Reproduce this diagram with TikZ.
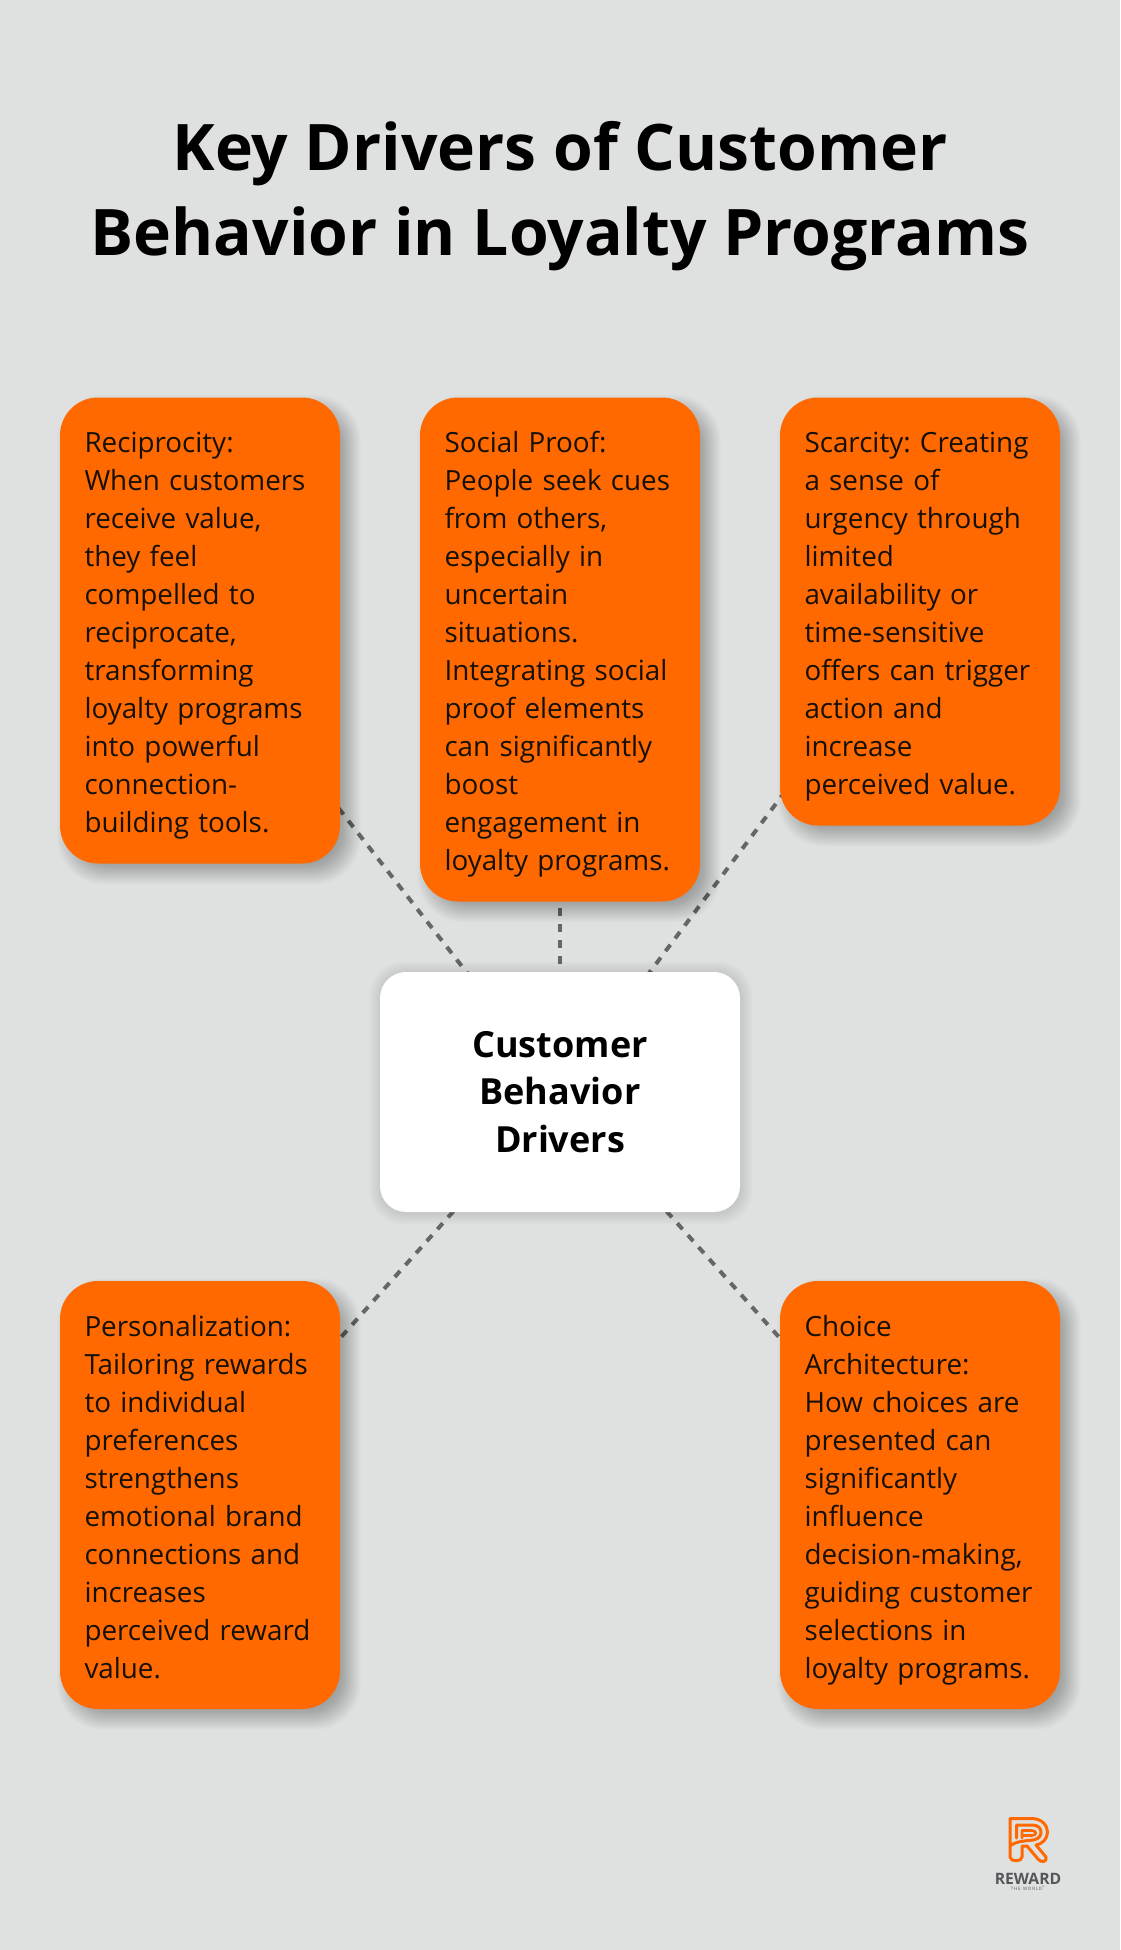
\documentclass[tikz,border=0pt]{standalone}
\usepackage{fontspec}
\setmainfont{Open Sans}
\usetikzlibrary{calc}
\definecolor{bgc}{HTML}{DFE1E0}
\definecolor{orangec}{HTML}{FF6900}
\definecolor{linec}{HTML}{666666}
\definecolor{inkc}{HTML}{151008}
\definecolor{logog}{HTML}{55565A}
\pgfdeclarelayer{bglayer}
\pgfdeclarelayer{lineslayer}
\pgfdeclarelayer{shadowlayer}
\pgfsetlayers{bglayer,lineslayer,shadowlayer,main}
\newcommand{\softshadow}[4]{%
  \begin{pgfonlayer}{shadowlayer}
  \foreach \d in {-12,-11,...,12}{
    \fill[black,opacity=#4,rounded corners={#3pt+\d pt*0.7}]
      ([xshift={#2pt-\d pt},yshift={\d pt-#2pt}]#1.north west)
      rectangle ([xshift={#2pt+\d pt},yshift={-#2pt-\d pt}]#1.south east);
  }
  \end{pgfonlayer}}
\tikzset{
  x=1pt,y=-1pt,
  card/.style={fill=orangec,draw=none,rounded corners=38pt,minimum width=280pt,
    inner sep=0pt,outer sep=0pt,text width=231pt,align=left,text=inkc,
    font=\fontsize{27.8}{38}\selectfont,
    execute at begin node={\hyphenpenalty=10000 \frenchspacing \rule{0pt}{32pt}},
    execute at end node={\rule[-8pt]{0pt}{8pt}}},
  hub/.style={fill=white,draw=none,rounded corners=26pt,minimum width=360pt,minimum height=240pt,
    inner sep=0pt,outer sep=0pt,align=center,text=black,
    font=\bfseries\fontsize{36}{47.5}\selectfont,
    execute at begin node={\rule{0pt}{32pt}}},
  spoke/.style={draw=linec,line width=4pt,dash pattern=on 8pt off 8pt},
  heading/.style={align=center,text=black,font=\bfseries\fontsize{64.2}{85.5}\selectfont,inner sep=0pt},
}
\begin{document}
\begin{tikzpicture}
\begin{pgfonlayer}{bglayer}
\fill[bgc] (0,0) rectangle (1120,1950);
\end{pgfonlayer}
\useasboundingbox (0,0) rectangle (1120,1950);
\node[heading] (title) at (560,196) {Key Drivers of Customer\\Behavior in Loyalty Programs};

\node[card,minimum height=466pt] (rec) at (200,630.5) {Reciprocity:\\When customers\\receive value,\\they feel\\compelled to\\reciprocate,\\transforming\\loyalty programs\\into powerful\\connection-\\building tools.};
\node[card,minimum height=504pt] (soc) at (560,649.5) {Social Proof:\\People seek cues\\from others,\\especially in\\uncertain\\situations.\\Integrating social\\proof elements\\can significantly\\boost\\engagement in\\loyalty programs.};
\node[card,minimum height=428pt] (sca) at (920,611.5) {Scarcity: Creating\\a sense of\\urgency through\\limited\\availability or\\time-sensitive\\offers can trigger\\action and\\increase\\perceived value.};
\node[card,minimum height=428pt] (per) at (200,1495) {Personalization:\\Tailoring rewards\\to individual\\preferences\\strengthens\\emotional brand\\connections and\\increases\\perceived reward\\value.};
\node[card,minimum height=428pt] (cho) at (920,1495) {Choice\\Architecture:\\How choices are\\presented can\\significantly\\influence\\decision-making,\\guiding customer\\selections in\\loyalty programs.};
\node[hub] (hub) at (560,1092) {Customer\\Behavior\\Drivers};

\softshadow{rec}{9}{38}{0.011}
\softshadow{soc}{9}{38}{0.011}
\softshadow{sca}{9}{38}{0.011}
\softshadow{per}{9}{38}{0.011}
\softshadow{cho}{9}{38}{0.011}
\softshadow{hub}{1}{26}{0.006}

\begin{pgfonlayer}{lineslayer}
\foreach \n in {rec,soc,sca,per,cho}{ \draw[spoke] (hub.center) -- (\n.center); }
\end{pgfonlayer}

% logo
\begin{scope}[line join=round,line cap=round]
\draw[orangec,line width=3pt,fill=none]
  (1010,1848) -- (1010,1822) -- (1010,1818.5) -- (1032,1818.5)
  .. controls (1042,1818.5) and (1047.5,1826) .. (1047.5,1832)
  .. controls (1047.5,1839) and (1042,1844) .. (1036,1845)
  -- (1046,1857) .. controls (1048,1862) and (1040,1863) .. (1038,1859)
  -- (1027,1846) -- (1022,1846) -- (1022,1857)
  .. controls (1022,1862) and (1010,1862) .. (1010,1857) -- (1010,1846)
  .. controls (1016,1841) and (1025,1841) .. (1033,1840)
  .. controls (1039,1839) and (1041,1836) .. (1041,1832)
  .. controls (1041,1828) and (1038,1825) .. (1032,1825)
  -- (1016.5,1825) -- (1016.5,1838);
\draw[orangec,line width=2.6pt] (1022,1838) -- (1022,1830.5) -- (1032,1830.5)
  .. controls (1037,1830.5) and (1037,1835.5) .. (1032,1835.5) -- (1022,1835.5);
\end{scope}
\node[inner sep=0pt,text=logog,font=\bfseries\fontsize{15.7}{15.7}\selectfont] (brand) at (1028,1878.5) {REWARD};
\node[inner sep=0pt,text=logog,font=\fontsize{4.5}{4.5}\selectfont] (tag) at (1028,1888.5) {T\,H\,E\ \ W\,O\,R\,L\,D\textsuperscript{™}};
\end{tikzpicture}
\end{document}
